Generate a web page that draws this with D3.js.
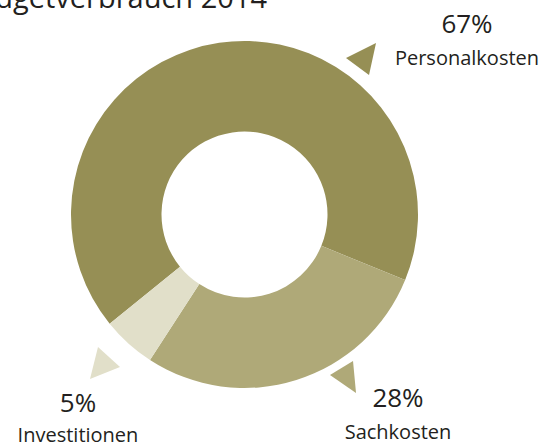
<!DOCTYPE html>
<html>
<head>
<meta charset="utf-8">
<script src="https://cdn.jsdelivr.net/npm/d3@7"></script>
<style>
  body { margin: 0; background: #fff; }
  svg { display: block; font-family: "Open Sans", sans-serif; }
</style>
</head>
<body>
<div id="chart"></div>
<script>
// Budgetverbrauch 2014
var categories = ["Personalkosten", "Sachkosten", "Investitionen"];
var shares = [67, 28, 5];
var percentLabels = ["67%", "28%", "5%"];

var width = 547, height = 446;
var cx = 244.5, cy = 214.5;
var outerR = 173.5, innerR = 83;

var colors = d3.scaleOrdinal()
  .domain(categories)
  .range(["#968f55", "#afa978", "#e1dfc9"]);

var data = categories.map((c, i) => ({ name: c, value: shares[i], label: percentLabels[i] }));

var pie = d3.pie()
  .sort(null)
  .value(d => d.value)
  .startAngle(-129 * Math.PI / 180)
  .endAngle(231 * Math.PI / 180);

var arc = d3.arc().innerRadius(innerR).outerRadius(outerR);

var svg = d3.select("#chart").append("svg")
  .attr("width", width)
  .attr("height", height);

// title, partly cut by the top/left edge like in the source image
svg.append("text")
  .attr("x", 267)
  .attr("y", 8)
  .attr("text-anchor", "end")
  .attr("font-size", 29)
  .attr("fill", "#231f20")
  .text("Budgetverbrauch 2014");

var g = svg.append("g").attr("transform", `translate(${cx},${cy})`);

g.selectAll("path")
  .data(pie(data))
  .join("path")
    .attr("d", arc)
    .attr("fill", d => colors(d.data.name));

// annotation layout: small pointer triangles + labels
var notes = {
  "Personalkosten": { tri: [[346, 58], [376, 43], [369, 75]], x: 467, yPct: 33, yName: 65 },
  "Sachkosten":     { tri: [[330, 375], [353, 361], [356, 393]], x: 398, yPct: 407, yName: 439 },
  "Investitionen":  { tri: [[120, 367], [98, 347], [90, 379]], x: 78, yPct: 412, yName: 442 }
};

var ann = svg.selectAll("g.note")
  .data(data)
  .join("g")
    .attr("class", "note");

ann.append("path")
  .attr("d", d => "M" + notes[d.name].tri.join("L") + "Z")
  .attr("fill", d => colors(d.name));

ann.append("text")
  .attr("x", d => notes[d.name].x)
  .attr("y", d => notes[d.name].yPct)
  .attr("text-anchor", "middle")
  .attr("font-size", 26)
  .attr("fill", "#231f20")
  .text(d => d.label);

ann.append("text")
  .attr("x", d => notes[d.name].x)
  .attr("y", d => notes[d.name].yName)
  .attr("text-anchor", "middle")
  .attr("font-size", 20)
  .attr("fill", "#231f20")
  .text(d => d.name);
</script>
</body>
</html>
